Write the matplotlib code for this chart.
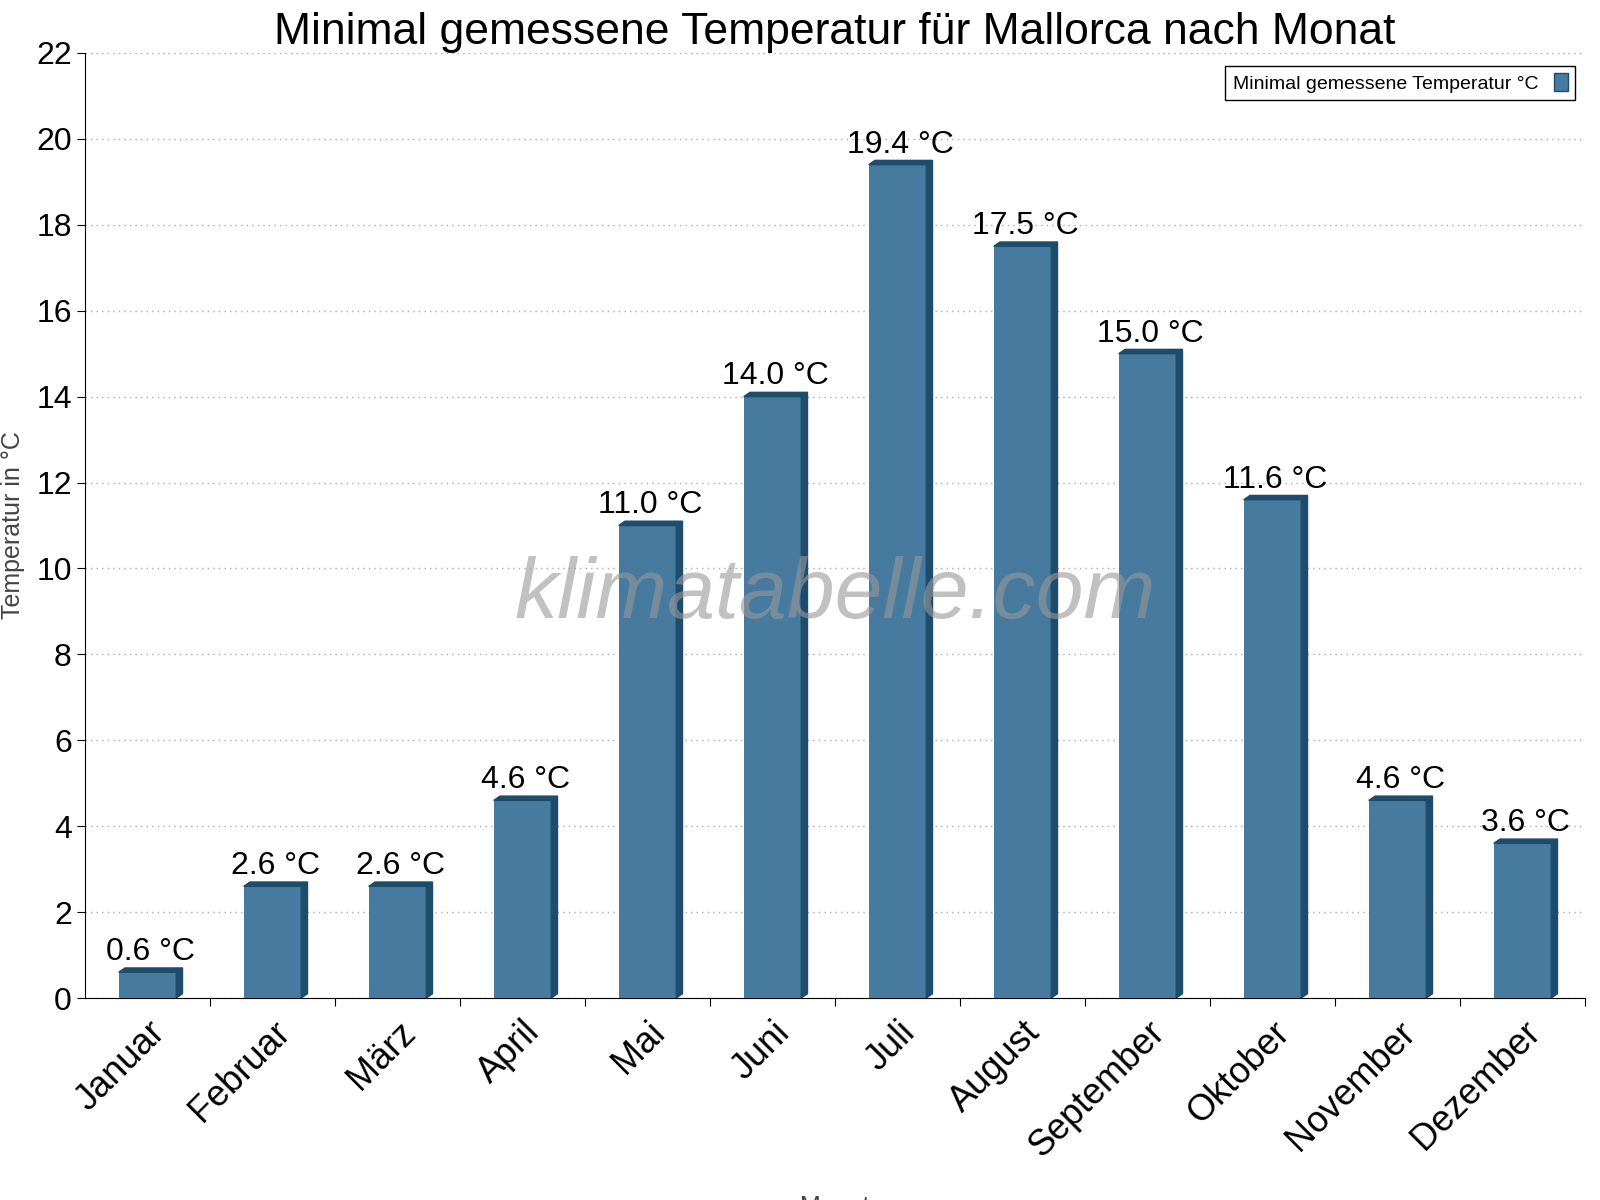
import matplotlib
matplotlib.use("Agg")
import matplotlib.pyplot as plt
from matplotlib.patches import Polygon, Patch
import matplotlib.transforms as mtrans
import numpy as np

plt.rcParams["font.family"] = "Liberation Sans"

months = ["Januar", "Februar", "März", "April", "Mai", "Juni", "Juli",
          "August", "September", "Oktober", "November", "Dezember"]
temps = [0.6, 2.6, 2.6, 4.6, 11.0, 14.0, 19.4, 17.5, 15.0, 11.6, 4.6, 3.6]

face = "#467A9E"
dark = "#1D4C6C"

fig = plt.figure(figsize=(16, 12), dpi=100)
ax = fig.add_axes([85/1600, 1-998/1200, (1585-85)/1600, (998-53)/1200])

x = np.arange(len(months))
w = 0.46
dx, dy = 0.05, 0.1
ax.bar(x, temps, width=w, color=face, zorder=3)
for xi, v in zip(x, temps):
    l, r = xi - w/2, xi + w/2
    ax.add_patch(Polygon([(r, 0), (r + dx, dy), (r + dx, v + dy), (r, v)],
                         closed=True, color=dark, zorder=3))
    ax.add_patch(Polygon([(l, v), (l + dx, v + dy), (r + dx, v + dy), (r, v)],
                         closed=True, color=dark, zorder=3))
    ax.text(xi + dx/2, v + 0.12, f"{v:.1f} °C", ha="center", va="bottom",
            fontsize=23, zorder=4)

ax.set_xlim(-0.5, 11.5)
ax.set_ylim(0, 22)
ax.set_yticks(range(0, 23, 2))
ax.tick_params(axis="y", labelsize=23, length=6)
ax.set_xticks(x + 0.5, minor=False)
ax.set_xticklabels([])
ax.set_xticks(x, minor=True)
labels = ax.set_xticklabels(months, minor=True, rotation=45, ha="right",
                            rotation_mode="anchor", fontsize=26)
off = mtrans.ScaledTranslation(0.45, 0, fig.dpi_scale_trans)
for t in labels:
    t.set_transform(t.get_transform() + off)
ax.tick_params(axis="x", which="minor", length=0, pad=12)
ax.tick_params(axis="x", which="major", length=6)
ax.grid(axis="y", linestyle=(0, (1, 3)), color="#aaaaaa", linewidth=1, zorder=0)
for s in ["top", "right"]:
    ax.spines[s].set_visible(False)

ax.set_title("Minimal gemessene Temperatur für Mallorca nach Monat",
             fontsize=32, pad=6)
ax.set_ylabel("Temperatur in °C", fontsize=18, color="#444444", labelpad=8)
ax.set_xlabel("Monat", fontsize=18, color="#444444", labelpad=22)

ax.text(0.5, 0.425, "klimatabelle.com", transform=ax.transAxes, fontsize=62,
        style="italic", color="#999999", alpha=0.6, ha="center", va="center",
        zorder=5)

leg = ax.legend([Patch(facecolor=face, edgecolor="#1D4C6C")],
                ["Minimal gemessene Temperatur °C"], loc="upper right",
                fontsize=14, fancybox=False, edgecolor="black", framealpha=1,
                markerfirst=False, handlelength=0.7, handleheight=1.0,
                bbox_to_anchor=(1.0, 0.997))
leg.get_frame().set_linewidth(1)

fig.savefig("out.png", dpi=100)
